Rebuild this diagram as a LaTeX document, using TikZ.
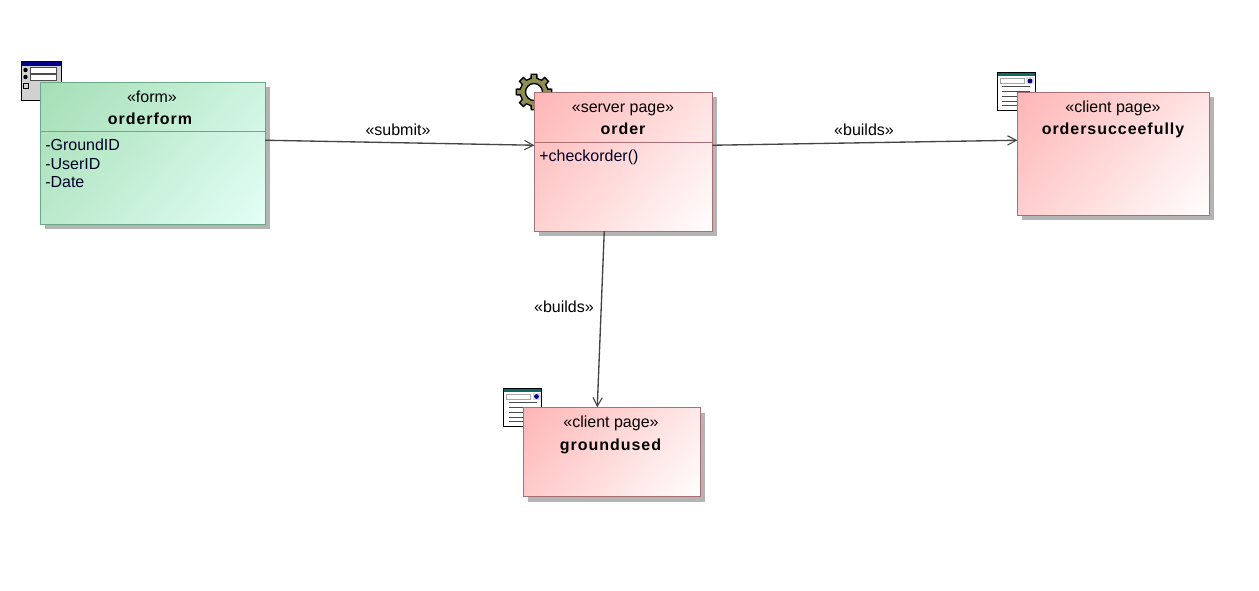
\documentclass[tikz,border=0pt]{standalone}
\usepackage{fontspec}
\setmainfont{Liberation Sans}
\newfontfamily\namefont[LetterSpace=6,Ligatures=NoCommon]{Liberation Sans Bold}
\usetikzlibrary{arrows.meta,calc}
\definecolor{pagefrom}{HTML}{FFB4B4}
\definecolor{pageto}{HTML}{FFFFFF}
\definecolor{pageline}{HTML}{A87074}
\definecolor{formfrom}{HTML}{A4DEB4}
\definecolor{formto}{HTML}{E4FFF8}
\definecolor{formline}{HTML}{6AA888}
\definecolor{shadowc}{HTML}{B4B4B4}
\definecolor{conn}{HTML}{444444}
\definecolor{gearc}{HTML}{8E8E50}
\definecolor{tealbar}{HTML}{0E6A62}
\pgfdeclareverticalshading{pageshade}{100bp}{color(0bp)=(pageto);color(14bp)=(pageto);color(86bp)=(pagefrom);color(100bp)=(pagefrom)}
\pgfdeclareverticalshading{formshade}{100bp}{color(0bp)=(formto);color(14bp)=(formto);color(86bp)=(formfrom);color(100bp)=(formfrom)}
\tikzset{
 x=0.75pt,y=-0.75pt,
 boxbase/.style={inner sep=0pt,outer sep=0pt,line width=1.05pt,shading angle=50},
 pagebox/.style={boxbase,draw=pageline,shading=pageshade},
 formbox/.style={boxbase,draw=formline,shading=formshade},
 dep/.style={draw=conn,line width=1pt,-{Straight Barb[length=6.5pt,width=7pt,line width=0.8pt]}},
 lbl/.style={font=\fontsize{12pt}{14pt}\selectfont,inner sep=0pt,anchor=base,text=black},
 nm/.style={font=\fontsize{12pt}{14pt}\namefont,inner sep=0pt,anchor=base,text=black},
 attr/.style={font=\fontsize{12pt}{14pt}\selectfont,inner sep=0pt,anchor=base west,text=black!85!blue},
 iconline/.style={draw=black,line width=0.75pt},
}
\newcommand{\pageicon}[2]{%
 \begin{scope}[shift={(#1,#2)}]
  \fill[white] (0,0) rectangle (38,38);
  \fill[tealbar] (0,0) rectangle (38,4);
  \draw[line width=0.35pt,gray!70] (3,6) rectangle (27,11);
  \fill[gray!25] (29,5) rectangle (37,12);
  \fill[blue!50!black] (33,8.5) circle (2.4);
  \foreach \yy in {14,19,24,29,33}{\draw[line width=0.5pt,black!70] (5,\yy) -- (33,\yy);}
  \draw[iconline] (0,0) rectangle (38,38);
 \end{scope}}
\begin{document}
\begin{tikzpicture}
\useasboundingbox (0,0) rectangle (1259,591);
\fill[white] (0,0) rectangle (1259,591);
% icons
\begin{scope}[shift={(21,62)}]
 \fill[black!18] (0,0) rectangle (40,39);
 \fill[blue!55!black] (0,0) rectangle (40,4);
 \fill[white] (9,5) rectangle (35,11);
 \draw[line width=0.4pt,black!70] (9,5) rectangle (35,11);
 \fill[white] (9,12) rectangle (35,18);
 \draw[line width=0.4pt,black!70] (9,12) rectangle (35,18);
 \fill[black] (4.5,8) circle (2.2) (4.5,15) circle (2.2);
 \draw[line width=0.4pt,black] (2,21) rectangle (7,26);
 \draw[iconline] (0,0) rectangle (40,39);
\end{scope}
\begin{scope}[shift={(534,92)}]
 \filldraw[fill=gearc,draw=black,line width=1pt,even odd rule]
  (-12:14)
  \foreach \a in {0,45,...,315}{ -- (\a-12:14) -- (\a-9:18) -- (\a+9:18) -- (\a+12:14) -- (\a+33:14)} -- cycle
  (0,0) circle (8.5);
\end{scope}
\pageicon{997}{72.5}
\pageicon{503.5}{388}
% shadows
\fill[shadowc] (45,87.5) rectangle (270,229.5);
\fill[shadowc] (539,97.5) rectangle (717,236.5);
\fill[shadowc] (1022,97.5) rectangle (1214,220.5);
\fill[shadowc] (528,412.5) rectangle (705,501.5);
% boxes
\node[formbox,minimum width=168.75pt,minimum height=106.5pt] (orderform) at (152.75,153.25) {};
\node[pagebox,minimum width=133.5pt,minimum height=104.25pt] (order) at (623.25,161.75) {};
\node[pagebox,minimum width=144pt,minimum height=92.25pt] (ordersucceefully) at (1113.25,153.75) {};
\node[pagebox,minimum width=132.75pt,minimum height=66.75pt] (groundused) at (611.75,451.75) {};
% dividers
\draw[formline,line width=1.05pt] ($(orderform.north west)+(0,49)$) -- ($(orderform.north east)+(0,49)$);
\draw[pageline,line width=1.05pt] ($(order.north west)+(0,50)$) -- ($(order.north east)+(0,50)$);
% text
\node[lbl] (t1) at (152,102.5) {«form»};
\node[nm] (n1) at (150,125) {orderform};
\node[attr] (a1) at (45,151) {-GroundID};
\node[attr] (a2) at (45,169.5) {-UserID};
\node[attr] (a3) at (45,188) {-Date};
\node[lbl] (t2) at (623,112.5) {«server page»};
\node[nm] (n2) at (623,135) {order};
\node[attr] (a4) at (539,162) {+checkorder()};
\node[lbl] (t3) at (1113,112.5) {«client page»};
\node[nm] (n3) at (1113,135) {ordersucceefully};
\node[lbl] (t4) at (611,427.5) {«client page»};
\node[nm] (n4) at (610.5,450) {groundused};
% connectors
\draw[dep] ($(orderform.north east)+(0,58)$) -- ($(order.north west)+(0,53)$);
\draw[dep] ($(order.north east)+(0,53)$) -- ($(ordersucceefully.north west)+(0,48)$);
\draw[dep] ($(order.south west)+(70,0)$) -- ($(groundused.north west)+(74,0)$);
\node[lbl] (l1) at (398,135.5) {«submit»};
\node[lbl] (l2) at (864,135.5) {«builds»};
\node[lbl] (l3) at (564,312.5) {«builds»};
\end{tikzpicture}
\end{document}
